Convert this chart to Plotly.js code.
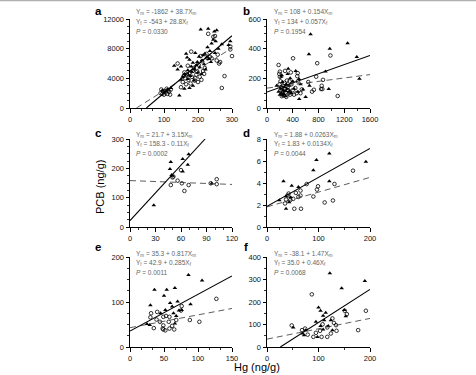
<!DOCTYPE html>
<html><head><meta charset="utf-8">
<script src="https://cdn.plot.ly/plotly-3.0.1.min.js"></script>
<style>html,body{margin:0;padding:0;background:#fff}#chart{width:476px;height:375px}</style>
</head><body><div id="chart"></div>
<script>
// ---- data: [Hg, PCB] pairs, males (triangles) and females (circles) ----
const aMale = [[95,2400],[100,2300],[110,2500],[120,2700],[130,5700],[140,5200],[145,1700],[150,3800],[150,5600],[155,4200],[160,2600],[160,4600],[165,7300],[168,6800],[170,3900],[170,5100],[172,4400],[175,6500],[178,4300],[180,5600],[182,4900],[185,6100],[188,3700],[190,5200],[192,7400],[195,5800],[198,6200],[200,4800],[203,6900],[205,5500],[208,10600],[210,4600],[212,6400],[215,7100],[218,5900],[220,7300],[222,5200],[225,6800],[228,8200],[230,10700],[232,6600],[235,7700],[238,6200],[240,8700],[245,9200],[248,10300],[250,7400],[252,9000],[255,10500],[260,8000],[270,8600],[290,8500],[295,9000],[175,2700],[185,3000]];
const aFemale = [[90,2000],[92,2500],[95,1900],[98,2200],[100,1800],[102,2300],[105,2100],[108,2600],[110,1900],[112,2400],[115,2200],[118,1800],[120,2500],[140,6000],[150,2800],[155,3500],[158,4300],[160,4800],[162,4000],[165,3200],[168,4500],[170,5700],[172,3800],[175,4700],[178,3300],[180,7600],[182,4200],[185,5000],[188,5400],[190,3700],[192,4000],[195,4500],[198,4900],[200,3500],[202,5800],[205,4200],[208,7000],[210,3800],[212,6300],[215,5000],[218,4600],[220,5400],[225,7300],[228,6700],[230,10000],[235,6900],[240,6700],[245,9600],[250,9700],[255,6400],[258,7200],[262,6000],[265,6200],[270,2700],[278,4300],[295,7900],[300,7000],[295,8300]];
const bMale = [[150,150],[180,110],[200,90],[210,130],[220,100],[230,220],[240,175],[250,120],[260,95],[270,140],[280,115],[290,80],[300,160],[310,130],[330,265],[340,150],[350,110],[360,200],[380,100],[400,180],[420,130],[446,250],[480,110],[497,195],[500,60],[520,160],[560,125],[600,75],[651,363],[660,150],[677,497],[908,246],[959,128],[975,399],[1252,437],[1395,343],[1436,197],[220,210],[250,85],[320,230]];
const bFemale = [[180,290],[190,230],[200,210],[195,160],[210,180],[220,140],[230,120],[240,95],[250,150],[255,110],[260,85],[270,170],[280,130],[290,105],[300,75],[310,185],[320,140],[330,120],[340,100],[350,180],[360,90],[370,240],[380,160],[400,120],[405,335],[420,90],[440,135],[460,100],[470,215],[477,235],[480,180],[520,100],[540,125],[641,175],[700,110],[728,123],[764,211],[780,302],[840,128],[850,150],[870,190],[860,128],[985,354],[1098,81],[200,245],[230,80],[350,110],[280,250]];
const cMale = [[28,74],[48,222],[47,198],[49,177],[62,232],[69,248],[68,212],[62,189],[50,175],[96,148]];
const cFemale = [[50,169],[48,143],[51,172],[56,158],[60,194],[61,149],[64,123],[69,143],[95,149],[102,163],[102,146]];
const dMale = [[121,6.68],[96,6.08],[90,5.15],[192,5.93],[121,4.15],[32,4.15],[48,3.76],[61,3.64],[24,2.44],[37,1.66],[46,2.7],[43,2.26],[37,2.8]];
const dFemale = [[167,5.12],[131,3.91],[128,2.41],[112,2.23],[99,3.7],[97,3.4],[90,2.77],[65,3.31],[65,2.86],[56,3.1],[51,2.56],[45,2.44],[40,2.86],[37,2.5],[35,2.14],[53,1.66],[66,1.66],[42,3.04],[61,2.74],[77,3.9]];
const eMale = [[86,160],[106,148],[36,127],[54,127],[66,131],[50,114],[30,93],[59,98],[70,101],[89,95],[72,81],[76,82],[62,90],[52,82],[64,75],[45,75],[25,51],[29,49],[68,69],[66,52]];
const eFemale = [[127,107],[102,56],[88,60],[76,91],[75,81],[40,78],[31,75],[39,61],[49,67],[53,69],[58,67],[49,39],[52,37],[48,41],[35,42],[58,41],[65,39],[62,47],[44,56],[30,66],[68,60],[49,48],[57,56]];
const fMale = [[122,328],[190,293],[145,261],[100,176],[104,161],[114,152],[109,139],[51,87],[150,164],[153,137],[95,112],[111,119],[124,119],[119,93],[109,78],[98,45],[75,75],[69,60],[72,52],[104,93],[127,75]];
const fFemale = [[87,234],[192,161],[151,161],[155,146],[177,75],[135,72],[124,60],[117,45],[106,45],[90,45],[95,63],[48,96],[74,82],[68,75],[79,55],[127,127],[108,101],[117,87],[130,107],[103,72],[134,97]];

// regression coefficients [intercept, slope]
const maleFit   = [[-1862,38.7],[108,0.154],[21.7,3.15],[1.88,0.0263],[35.3,0.817],[-38.1,1.47]];
const femaleFit = [[-543,28.8],[134,0.057],[158.3,-0.11],[1.83,0.0134],[42.9,0.285],[35.0,0.46]];
const eqMale = ['-1862 + 38.7','108 + 0.154','21.7 + 3.15','1.88 + 0.0263','35.3 + 0.817','-38.1 + 1.47'];
const eqFemale = ['-543 + 28.8','134 + 0.057','158.3 - 0.11','1.83 + 0.0134','42.9 + 0.285','35.0 + 0.46'];
const pValues = ['0.0330','0.1954','0.0002','0.0044','0.0011','0.0068'];
const panelLetters = ['a','b','c','d','e','f'];

// axis setup (layout only)
const axes = [
  {xr:[0,300],  yr:[0,12000], xd:100, xm:100/3, yd:4000, ym:1000},
  {xr:[0,1600], yr:[0,600],   xd:400, xm:200,   yd:200,  ym:50},
  {xr:[0,120],  yr:[0,300],   xd:30,  xm:10,    yd:100,  ym:25},
  {xr:[0,200],  yr:[0,8],     xd:100, xm:25,    yd:2,    ym:1},
  {xr:[0,150],  yr:[0,200],   xd:50,  xm:50/3,  yd:100,  ym:25},
  {xr:[0,200],  yr:[0,400],   xd:100, xm:50,    yd:100,  ym:50}
];
const W = 476, H = 375;
const colPx = [[130,232],[267,370]];
const rowPx = [[19,108],[139,227],[257,347]];
const FONT = 'Liberation Sans, Arial, sans-serif';

const males = [aMale,bMale,cMale,dMale,eMale,fMale];
const females = [aFemale,bFemale,cFemale,dFemale,eFemale,fFemale];

function fitLine(coef, ax){
  const [b0,b1] = coef;
  let x0 = ax.xr[0], x1 = ax.xr[1];
  const yAt = x => b0 + b1*x;
  if (b1 > 0){
    if (yAt(x0) < ax.yr[0]) x0 = (ax.yr[0]-b0)/b1;
    if (yAt(x1) > ax.yr[1]) x1 = (ax.yr[1]-b0)/b1;
  }
  return {x:[x0,x1], y:[yAt(x0),yAt(x1)]};
}

const data = [], layout = {
  width:W, height:H, margin:{l:0,r:0,t:0,b:0}, showlegend:false,
  paper_bgcolor:'#fff', plot_bgcolor:'rgba(0,0,0,0)',
  font:{family:FONT, color:'#000'}, annotations:[],
  shapes:[{type:'line', xref:'paper', yref:'paper', x0:0, x1:1, y0:1-0.6/H, y1:1-0.6/H, line:{color:'#b0b0b0', width:1.5}}]
};

for (let i=0;i<6;i++){
  const col = i%2, row = Math.floor(i/2);
  const ax = axes[i];
  const xn = i===0?'':String(i+1);
  const xa = 'x'+xn, ya = 'y'+xn;
  const [l,r] = colPx[col], [t,b] = rowPx[row];
  const common = {showgrid:false, zeroline:false, showline:true, linecolor:'#000', linewidth:1,
    ticks:'outside', ticklen:3.5, tickwidth:1, tickcolor:'#000', tick0:0, tickformat:'d',
    tickfont:{family:FONT, size:7.5, color:'#111'}, fixedrange:true};
  layout['xaxis'+xn] = Object.assign({}, common, {domain:[l/W, r/W], range:ax.xr, dtick:ax.xd, anchor:ya,
    minor:{dtick:ax.xm, tick0:0, ticks:'outside', ticklen:2, tickwidth:0.8, tickcolor:'#000'}});
  layout['yaxis'+xn] = Object.assign({}, common, {domain:[1-b/H, 1-t/H], range:ax.yr, dtick:ax.yd, anchor:xa,
    minor:{dtick:ax.ym, tick0:0, ticks:'outside', ticklen:2, tickwidth:0.8, tickcolor:'#000'}});

  data.push({x:females[i].map(p=>p[0]), y:females[i].map(p=>p[1]), xaxis:xa, yaxis:ya, type:'scatter', mode:'markers',
    cliponaxis:false, marker:{symbol:'circle-open', size:3.6, color:'#000', line:{width:0.8, color:'#000'}}});
  data.push({x:males[i].map(p=>p[0]), y:males[i].map(p=>p[1]), xaxis:xa, yaxis:ya, type:'scatter', mode:'markers',
    cliponaxis:false, marker:{symbol:'triangle-up', size:4, color:'#000', line:{width:0}}});
  const fl = fitLine(femaleFit[i], ax), ml = fitLine(maleFit[i], ax);
  data.push(Object.assign(fl, {xaxis:xa, yaxis:ya, type:'scatter', mode:'lines', line:{color:'#333', width:0.8, dash:'6px,4px'}}));
  data.push(Object.assign(ml, {xaxis:xa, yaxis:ya, type:'scatter', mode:'lines', line:{color:'#000', width:1.1}}));

  // panel letter
  layout.annotations.push({xref:'paper', yref:'paper', x:(col===0?98:246)/W, y:1-(row===0?10.5:(row===1?133:247))/H,
    text:'<b>'+panelLetters[i]+'</b>', showarrow:false, xanchor:'center', yanchor:'middle', font:{size:11.5, family:FONT, color:'#000'}});
  // equations
  const tx = (col===0?134:272)/W;
  const ty0 = [12.5,134.5,253.5][row];
  const lines = ['Y<sub>m</sub> = '+eqMale[i]+'X<sub>m</sub>', 'Y<sub>f</sub> = '+eqFemale[i]+'X<sub>f</sub>', '<i>P</i> = '+pValues[i]];
  lines.forEach((s,k)=>layout.annotations.push({xref:'paper', yref:'paper', x:tx, y:1-(ty0+k*9.6)/H, text:s,
    showarrow:false, xanchor:'left', yanchor:'middle', font:{size:6.5, family:FONT, color:'#666'}}));
}
layout.annotations.push({xref:'paper', yref:'paper', x:100/W, y:1-187/H, text:'PCB (ng/g)', textangle:-90, showarrow:false,
  xanchor:'center', yanchor:'middle', font:{size:11, family:FONT, color:'#000'}});
layout.annotations.push({xref:'paper', yref:'paper', x:257/W, y:1-367/H, text:'Hg (ng/g)', showarrow:false,
  xanchor:'center', yanchor:'middle', font:{size:11, family:FONT, color:'#000'}});

Plotly.newPlot('chart', data, layout, {staticPlot:true, displayModeBar:false});
</script></body></html>
